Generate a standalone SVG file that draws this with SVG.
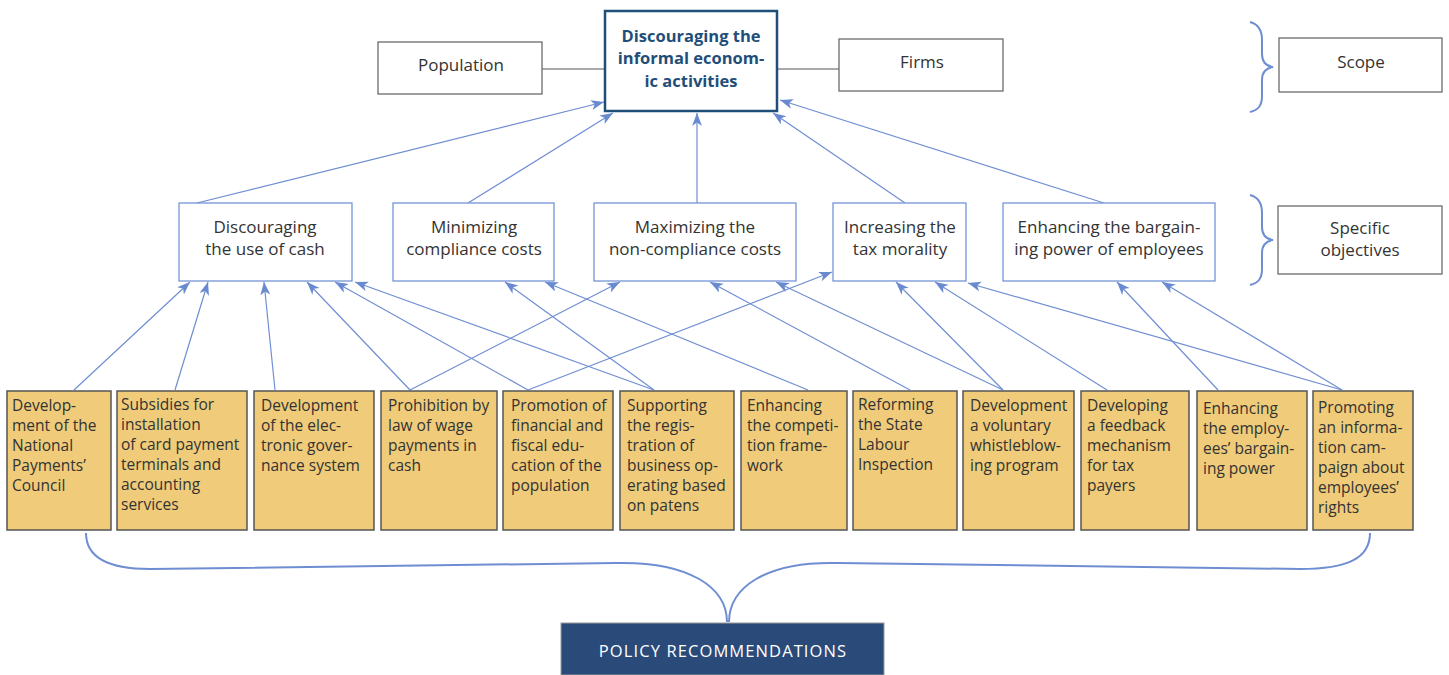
<svg xmlns="http://www.w3.org/2000/svg" width="1449" height="675" viewBox="0 0 1449 675">
<defs>
<style>
text{font-family:"Open Sans","Liberation Sans",Arial,sans-serif;fill:#333}
.g{fill:#fff;stroke:#6b6b6b;stroke-width:1.3}
.m{fill:#fff;stroke:#7494d4;stroke-width:1.3}
.b{fill:#efcb7a;stroke:#555;stroke-width:1.5}
.mt{font-size:17px;text-anchor:middle}
.bt{font-size:15.5px}
.c{fill:none;stroke:#6f8ed2;stroke-width:1.2}
.br{fill:none;stroke:#6f8ed2;stroke-width:2}
</style>
<marker id="ah" markerUnits="userSpaceOnUse" markerWidth="14" markerHeight="12" refX="13" refY="5" orient="auto">
<path d="M0,0 L13,5 L0,10 L3.5,5 z" fill="#6a8ad0"/>
</marker>
</defs>
<rect width="1449" height="675" fill="#fff"/>

<g id="connectors">
<line class="c" x1="542" y1="69" x2="605" y2="69" style="stroke:#555"/>
<line class="c" x1="777" y1="69" x2="839" y2="69" style="stroke:#555"/>
<line class="c" x1="197" y1="203" x2="604" y2="102" marker-end="url(#ah)"/>
<line class="c" x1="468" y1="203" x2="613" y2="113" marker-end="url(#ah)"/>
<line class="c" x1="697" y1="203" x2="697" y2="113" marker-end="url(#ah)"/>
<line class="c" x1="905" y1="203" x2="773" y2="113" marker-end="url(#ah)"/>
<line class="c" x1="1104" y1="203" x2="780" y2="100" marker-end="url(#ah)"/>

<line class="c" x1="74" y1="390" x2="190" y2="282" marker-end="url(#ah)"/>
<line class="c" x1="175" y1="390" x2="208" y2="282" marker-end="url(#ah)"/>
<line class="c" x1="275" y1="390" x2="264" y2="282" marker-end="url(#ah)"/>
<line class="c" x1="410" y1="390" x2="307" y2="282" marker-end="url(#ah)"/>
<line class="c" x1="528" y1="390" x2="335" y2="282" marker-end="url(#ah)"/>
<line class="c" x1="654" y1="390" x2="355" y2="282" marker-end="url(#ah)"/>
<line class="c" x1="654" y1="390" x2="505" y2="282" marker-end="url(#ah)"/>
<line class="c" x1="808" y1="390" x2="545" y2="282" marker-end="url(#ah)"/>
<line class="c" x1="410" y1="390" x2="620" y2="282" marker-end="url(#ah)"/>
<line class="c" x1="910" y1="390" x2="710" y2="282" marker-end="url(#ah)"/>
<line class="c" x1="1003" y1="390" x2="776" y2="282" marker-end="url(#ah)"/>
<line class="c" x1="528" y1="390" x2="832" y2="272" marker-end="url(#ah)"/>
<line class="c" x1="1003" y1="390" x2="896" y2="282" marker-end="url(#ah)"/>
<line class="c" x1="1107" y1="390" x2="935" y2="282" marker-end="url(#ah)"/>
<line class="c" x1="1342" y1="390" x2="968" y2="283" marker-end="url(#ah)"/>
<line class="c" x1="1218" y1="390" x2="1117" y2="282" marker-end="url(#ah)"/>
<line class="c" x1="1342" y1="390" x2="1162" y2="282" marker-end="url(#ah)"/>

<path class="br" d="M1250,22 C1258,24 1262,30 1262,40 L1262,54 C1262,62 1266,66 1273,67 C1266,68 1262,72 1262,80 L1262,96 C1262,106 1258,110 1250,112"/>
<path class="br" d="M1250,195 C1258,197 1262,203 1262,213 L1262,227 C1262,235 1266,239 1273,240 C1266,241 1262,245 1262,253 L1262,269 C1262,279 1258,283 1250,285"/>
<path class="br" d="M86,533 C86,558 108,569 150,569 L615,563 C690,561 727,588 727,622"/>
<path class="br" d="M1370,533 C1370,558 1348,569 1300,569 L838,563 C765,561 729,588 729,622"/>
</g>

<g id="n-central">
<rect x="605" y="11" width="172" height="100" fill="#fff" stroke="#1f4e79" stroke-width="2.5"/>
<text x="691" y="42" text-anchor="middle" style="font-size:16.5px;font-weight:700;fill:#1f4e79">Discouraging the</text>
<text x="691" y="64" text-anchor="middle" style="font-size:16.5px;font-weight:700;fill:#1f4e79">informal econom-</text>
<text x="691" y="87" text-anchor="middle" style="font-size:16.5px;font-weight:700;fill:#1f4e79">ic activities</text>
</g>
<g id="n-population">
<rect class="g" x="378" y="42" width="164" height="52"/>
<text class="mt" x="461" y="71">Population</text>
</g>
<g id="n-firms">
<rect class="g" x="839" y="39" width="164" height="52"/>
<text class="mt" x="922" y="68">Firms</text>
</g>
<g id="n-scope">
<rect class="g" x="1279" y="38" width="163" height="54"/>
<text class="mt" x="1361" y="68">Scope</text>
</g>
<g id="n-specific">
<rect class="g" x="1278" y="206" width="164" height="68"/>
<text class="mt" x="1360" y="234">Specific</text>
<text class="mt" x="1360" y="256">objectives</text>
</g>

<g id="n-cash">
<rect class="m" x="179" y="203" width="173" height="78"/>
<text class="mt" x="265" y="233">Discouraging</text>
<text class="mt" x="265" y="255">the use of cash</text>
</g>
<g id="n-minimizing">
<rect class="m" x="393" y="203" width="161" height="78"/>
<text class="mt" x="474" y="233">Minimizing</text>
<text class="mt" x="474" y="255">compliance costs</text>
</g>
<g id="n-maximizing">
<rect class="m" x="594" y="203" width="202" height="78"/>
<text class="mt" x="695" y="233">Maximizing the</text>
<text class="mt" x="695" y="255">non-compliance costs</text>
</g>
<g id="n-morality">
<rect class="m" x="833" y="203" width="133" height="78"/>
<text class="mt" x="900" y="233">Increasing the</text>
<text class="mt" x="900" y="255">tax morality</text>
</g>
<g id="n-bargaining">
<rect class="m" x="1003" y="203" width="212" height="78"/>
<text class="mt" x="1109" y="233">Enhancing the bargain-</text>
<text class="mt" x="1109" y="255">ing power of employees</text>
</g>

<g id="p1">
<rect class="b" x="7" y="391" width="104" height="139"/>
<text class="bt" x="12" y="411">Develop-</text>
<text class="bt" x="12" y="431">ment of the</text>
<text class="bt" x="12" y="451">National</text>
<text class="bt" x="12" y="471">Payments’</text>
<text class="bt" x="12" y="491">Council</text>
</g>
<g id="p2">
<rect class="b" x="117" y="391" width="130" height="139"/>
<text class="bt" x="121" y="410">Subsidies for</text>
<text class="bt" x="121" y="430">installation</text>
<text class="bt" x="121" y="450">of card payment</text>
<text class="bt" x="121" y="470">terminals and</text>
<text class="bt" x="121" y="490">accounting</text>
<text class="bt" x="121" y="510">services</text>
</g>
<g id="p3">
<rect class="b" x="254" y="391" width="120" height="139"/>
<text class="bt" x="261" y="411">Development</text>
<text class="bt" x="261" y="431">of the elec-</text>
<text class="bt" x="261" y="451">tronic gover-</text>
<text class="bt" x="261" y="471">nance system</text>
</g>
<g id="p4">
<rect class="b" x="381" y="391" width="116" height="139"/>
<text class="bt" x="388" y="411">Prohibition by</text>
<text class="bt" x="388" y="431">law of wage</text>
<text class="bt" x="388" y="451">payments in</text>
<text class="bt" x="388" y="471">cash</text>
</g>
<g id="p5">
<rect class="b" x="503" y="391" width="110" height="139"/>
<text class="bt" x="511" y="411">Promotion of</text>
<text class="bt" x="511" y="431">financial and</text>
<text class="bt" x="511" y="451">fiscal edu-</text>
<text class="bt" x="511" y="471">cation of the</text>
<text class="bt" x="511" y="491">population</text>
</g>
<g id="p6">
<rect class="b" x="620" y="391" width="114" height="139"/>
<text class="bt" x="627" y="411">Supporting</text>
<text class="bt" x="627" y="431">the regis-</text>
<text class="bt" x="627" y="451">tration of</text>
<text class="bt" x="627" y="471">business op-</text>
<text class="bt" x="627" y="491">erating based</text>
<text class="bt" x="627" y="511">on patens</text>
</g>
<g id="p7">
<rect class="b" x="741" y="391" width="106" height="139"/>
<text class="bt" x="747" y="411">Enhancing</text>
<text class="bt" x="747" y="431">the competi-</text>
<text class="bt" x="747" y="451">tion frame-</text>
<text class="bt" x="747" y="471">work</text>
</g>
<g id="p8">
<rect class="b" x="853" y="391" width="104" height="139"/>
<text class="bt" x="858" y="410">Reforming</text>
<text class="bt" x="858" y="430">the State</text>
<text class="bt" x="858" y="450">Labour</text>
<text class="bt" x="858" y="470">Inspection</text>
</g>
<g id="p9">
<rect class="b" x="963" y="391" width="111" height="139"/>
<text class="bt" x="970" y="411">Development</text>
<text class="bt" x="970" y="431">a voluntary</text>
<text class="bt" x="970" y="451">whistleblow-</text>
<text class="bt" x="970" y="471">ing program</text>
</g>
<g id="p10">
<rect class="b" x="1081" y="391" width="108" height="139"/>
<text class="bt" x="1087" y="411">Developing</text>
<text class="bt" x="1087" y="431">a feedback</text>
<text class="bt" x="1087" y="451">mechanism</text>
<text class="bt" x="1087" y="471">for tax</text>
<text class="bt" x="1087" y="491">payers</text>
</g>
<g id="p11">
<rect class="b" x="1197" y="391" width="110" height="139"/>
<text class="bt" x="1203" y="414">Enhancing</text>
<text class="bt" x="1203" y="434">the employ-</text>
<text class="bt" x="1203" y="454">ees’ bargain-</text>
<text class="bt" x="1203" y="474">ing power</text>
</g>
<g id="p12">
<rect class="b" x="1313" y="391" width="100" height="139"/>
<text class="bt" x="1318" y="413">Promoting</text>
<text class="bt" x="1318" y="433">an informa-</text>
<text class="bt" x="1318" y="453">tion cam-</text>
<text class="bt" x="1318" y="473">paign about</text>
<text class="bt" x="1318" y="493">employees’</text>
<text class="bt" x="1318" y="513">rights</text>
</g>

<g id="n-policy">
<rect x="561" y="623" width="323" height="52" fill="#2a4a79" stroke="#9a9a9a" stroke-width="1"/>
<text x="723" y="657" text-anchor="middle" style="font-size:16.5px;letter-spacing:1.1px;fill:#fff">POLICY RECOMMENDATIONS</text>
</g>
</svg>
